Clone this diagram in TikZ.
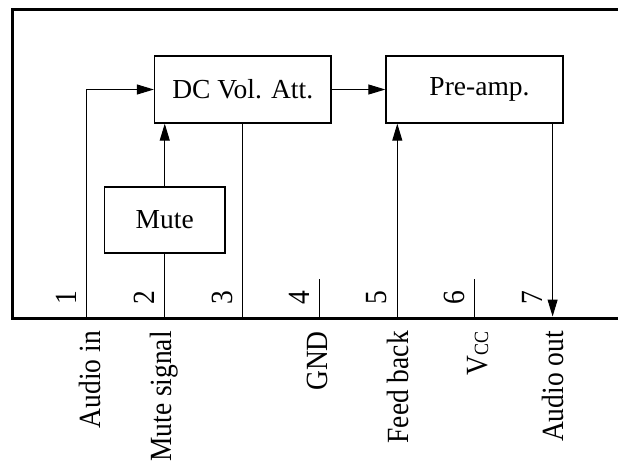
\documentclass[tikz,border=0pt]{standalone}
\usepackage{fontspec}
\setmainfont{Liberation Serif}
\usetikzlibrary{arrows.meta}
\newcommand{\tallx}[1]{\scalebox{1}[1.12]{#1}}
\begin{document}
\begin{tikzpicture}[x=1pt,y=-1pt,
  txt/.style={font=\fontsize{27.5}{33}\selectfont},
  blk/.style={draw,line width=1.3pt,inner sep=0pt,txt},
  wire/.style={line width=1pt},
  arr/.style={wire,-{Triangle[length=17pt,width=10pt]}},
  pinnum/.style={txt,rotate=90,inner sep=0pt},
  pinlab/.style={txt,rotate=90,anchor=base east,inner sep=0pt}]
\useasboundingbox (0,0) rectangle (618,464);
% frame
\draw[line width=3pt,line join=miter] (625,9) -- (12,9) -- (12,318) -- (625,318);
% blocks
\node[blk,minimum width=176.5pt,minimum height=67pt] (dc) at (242.75,89.5) {DC Vol. Att.};
\node[blk,minimum width=177pt,minimum height=67pt] (pre) at (474.5,89.5) {\hspace*{10pt}Pre-amp.};
\node[blk,minimum width=120.5pt,minimum height=66pt] (mute) at (164.75,220) {Mute};
% pins
\coordinate (p1) at (86.7,318);
\coordinate (p2) at (164.75,318);
\coordinate (p3) at (242.75,318);
\coordinate (p4) at (319.65,318);
\coordinate (p5) at (397.3,318);
\coordinate (p6) at (474.95,318);
\coordinate (p7) at (552.6,316.5);
\coordinate (t4) at (319.65,279);
\coordinate (t6) at (474.95,279);
% connectors
\draw[arr] (p1) |- (dc.west);
\draw[wire] (p2) -- (mute.south);
\draw[arr] (mute.north) -- (dc.south -| mute.north);
\draw[wire] (dc.south) -- (p3);
\draw[wire] (t4) -- (p4);
\draw[arr] (p5) -- (pre.south -| p5);
\draw[wire] (t6) -- (p6);
\draw[arr] (pre.south -| p7) -- (p7);
\draw[arr] (dc.east) -- (pre.west);
% pin numbers
\node[pinnum] (n1) at (66.7,298) {\tallx{1}};
\node[pinnum] (n2) at (144.25,298) {\tallx{2}};
\node[pinnum] (n3) at (222.25,298) {\tallx{3}};
\node[pinnum] (n4) at (299.15,298) {\tallx{4}};
\node[pinnum] (n5) at (376.8,298) {\tallx{5}};
\node[pinnum] (n6) at (454.45,298) {\tallx{6}};
\node[pinnum] (n7) at (532.1,298) {\tallx{7}};
% pin labels
\node[pinlab] (l1) at (100,331) {\tallx{Audio in}};
\node[pinlab] (l2) at (171,331) {\tallx{Mute signal}};
\node[pinlab] (l4) at (327,331) {\tallx{GND}};
\node[pinlab] (l5) at (408,331) {\tallx{Feed back}};
\node[pinlab] (l6) at (487,331) {\tallx{V\raisebox{-1pt}{\fontsize{18}{18}\selectfont CC}}};
\node[pinlab] (l7) at (563,331) {\tallx{Audio out}};
\end{tikzpicture}
\end{document}
